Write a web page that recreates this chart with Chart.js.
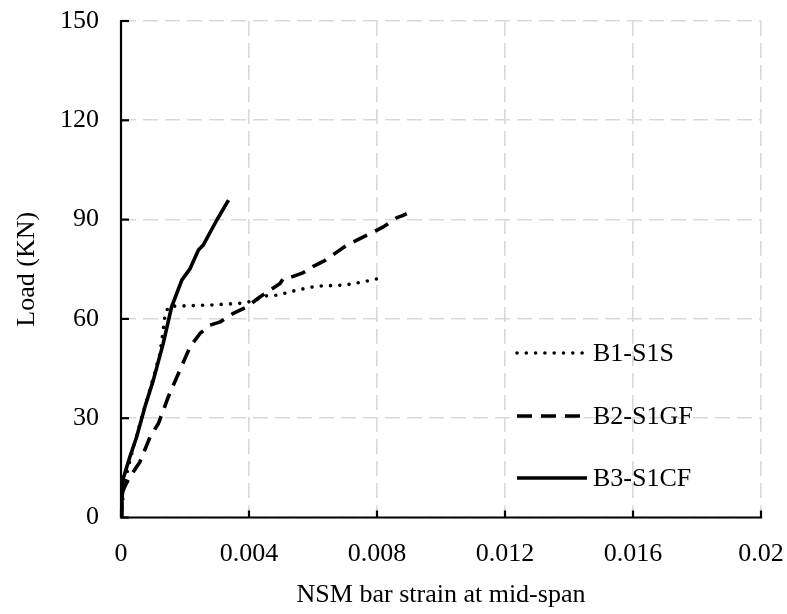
<!DOCTYPE html>
<html>
<head>
<meta charset="utf-8">
<script src="https://cdn.jsdelivr.net/npm/chart.js@4.4.1/dist/chart.umd.min.js"></script>
<style>
html,body{margin:0;padding:0;background:#fff;}
#wrap{width:787px;height:614px;position:relative;}
</style>
</head>
<body>
<div id="wrap"><canvas id="c" width="787" height="614"></canvas></div>
<script>
// ---- data ----
const seriesNames = ["B1-S1S", "B2-S1GF", "B3-S1CF"];

const b1Strain = [0, 0.0001, 0.0003, 0.00065, 0.00096, 0.00122, 0.00132, 0.00138, 0.0015, 0.0019, 0.0028, 0.00372, 0.00403, 0.00456, 0.00492, 0.00549, 0.00612, 0.007, 0.00758, 0.00818];
const b1Load   = [0, 10, 18, 30.4, 40.5, 49.6, 56.6, 61.7, 63.8, 63.9, 64.2, 64.7, 65.2, 67.0, 67.2, 68.7, 69.9, 70.2, 71.2, 72.5];

const b2Strain = [0, 0.00005, 0.00023, 0.00059, 0.00091, 0.00117, 0.00148, 0.00184, 0.00216, 0.00247, 0.00278, 0.0031, 0.00351, 0.00393, 0.00435, 0.00497, 0.00507, 0.00521, 0.0057, 0.00601, 0.00638, 0.00669, 0.00706, 0.00742, 0.00784, 0.0082, 0.00862, 0.0088, 0.00893];
const b2Load   = [0, 8, 11.5, 16.8, 24.4, 28.4, 36.5, 44.5, 51.6, 55.6, 58.1, 59.1, 61.7, 63.6, 66.7, 70.7, 72.2, 72.2, 74.0, 75.9, 77.7, 79.8, 82.3, 84.0, 86.0, 87.8, 90.6, 91.2, 91.8];

const b3Strain = [0, 0.00003, 0.00007, 0.00028, 0.00049, 0.00075, 0.00101, 0.00132, 0.00158, 0.0019, 0.00216, 0.00242, 0.00257, 0.00299, 0.00336];
const b3Load   = [0, 5, 11.8, 18.4, 24.4, 33.5, 41.5, 52.6, 63.6, 71.7, 75.2, 80.8, 82.3, 89.8, 95.9];

const xTicks = [0, 0.004, 0.008, 0.012, 0.016, 0.02];
const yTicks = [0, 30, 60, 90, 120, 150];
const xTitle = "NSM bar strain at mid-span";
const yTitle = "Load (KN)";

// ---- build ----
const FONT = "'Liberation Serif', 'Times New Roman', serif";
const FS = 26;
const pts = (xs, ys) => xs.map((x, i) => ({x: x, y: ys[i]}));

const styles = [
  {borderDash: [0, 9.3], borderCapStyle: 'round', borderWidth: 3.6},
  {borderDash: [15, 9], borderCapStyle: 'butt', borderWidth: 3.6},
  {borderDash: [], borderCapStyle: 'butt', borderWidth: 3.6}
];
const dataArr = [pts(b1Strain, b1Load), pts(b2Strain, b2Load), pts(b3Strain, b3Load)];

const datasets = dataArr.map((d, i) => Object.assign({
  label: seriesNames[i],
  data: d,
  showLine: true,
  pointRadius: 0,
  pointHoverRadius: 0,
  borderColor: '#000',
  backgroundColor: '#000',
  tension: 0,
  fill: false,
  borderJoinStyle: 'round'
}, styles[i]));

const axesPlugin = {
  id: 'axesPlugin',
  afterDatasetsDraw(chart) {
    const {ctx, chartArea: a, scales: {x, y}} = chart;
    ctx.save();
    ctx.strokeStyle = '#000';
    ctx.lineWidth = 2.2;
    ctx.setLineDash([]);
    ctx.lineCap = 'square';
    ctx.beginPath();
    ctx.moveTo(a.left, a.top);
    ctx.lineTo(a.left, a.bottom);
    ctx.lineTo(a.right, a.bottom);
    ctx.stroke();
    ctx.lineCap = 'butt';
    xTicks.forEach(v => {
      const px = x.getPixelForValue(v);
      ctx.beginPath(); ctx.moveTo(px, a.bottom); ctx.lineTo(px, a.bottom - 7); ctx.stroke();
    });
    yTicks.forEach(v => {
      const py = y.getPixelForValue(v);
      ctx.beginPath(); ctx.moveTo(a.left, py); ctx.lineTo(a.left + 8, py); ctx.stroke();
    });
    ctx.restore();
  },
  afterDraw(chart) {
    const {ctx} = chart;
    const rows = [353, 416, 478];
    ctx.save();
    chart.data.datasets.forEach((ds, i) => {
      const yy = rows[i];
      ctx.strokeStyle = '#000';
      ctx.lineWidth = ds.borderWidth;
      ctx.lineCap = ds.borderCapStyle;
      ctx.setLineDash(ds.borderDash);
      ctx.beginPath();
      ctx.moveTo(517, yy);
      ctx.lineTo(587, yy);
      ctx.stroke();
      ctx.setLineDash([]);
      ctx.fillStyle = '#000';
      ctx.font = FS + "px " + FONT;
      ctx.textBaseline = 'middle';
      ctx.textAlign = 'left';
      ctx.fillText(ds.label, 593, yy + 1);
    });
    ctx.restore();
  }
};

new Chart(document.getElementById('c'), {
  type: 'scatter',
  data: {datasets: datasets},
  options: {
    responsive: false,
    animation: false,
    events: [],
    layout: {padding: {left: 0, right: 26, top: 21, bottom: 0}},
    plugins: {legend: {display: false}, tooltip: {enabled: false}},
    scales: {
      x: {
        type: 'linear',
        min: 0, max: 0.02,
        afterBuildTicks: s => { s.ticks = xTicks.map(v => ({value: v})); },
        afterFit: s => { s.height = 96.5; s.paddingLeft = 0; s.paddingRight = 0; },
        grid: {color: '#d9d9d9', lineWidth: 1.6, drawTicks: false},
        border: {display: false, dash: [15, 7]},
        ticks: {
          color: '#000', padding: 21, maxRotation: 0, autoSkip: false,
          font: {family: FONT, size: FS},
          callback: v => String(v)
        },
        title: {display: true, text: xTitle, color: '#000', font: {family: FONT, size: FS}, padding: {top: 0, bottom: 3}}
      },
      y: {
        type: 'linear',
        min: 0, max: 150,
        afterBuildTicks: s => { s.ticks = yTicks.map(v => ({value: v})); },
        afterFit: s => { s.width = 121; s.paddingTop = 0; s.paddingBottom = 0; },
        grid: {color: '#d9d9d9', lineWidth: 1.6, drawTicks: false},
        border: {display: false, dash: [15, 7]},
        ticks: {
          color: '#000', padding: 22,
          font: {family: FONT, size: FS},
          callback: v => String(v)
        },
        title: {display: true, text: yTitle, color: '#000', font: {family: FONT, size: FS}, padding: {top: 12, bottom: 0}}
      }
    }
  },
  plugins: [axesPlugin]
});
</script>
</body>
</html>
